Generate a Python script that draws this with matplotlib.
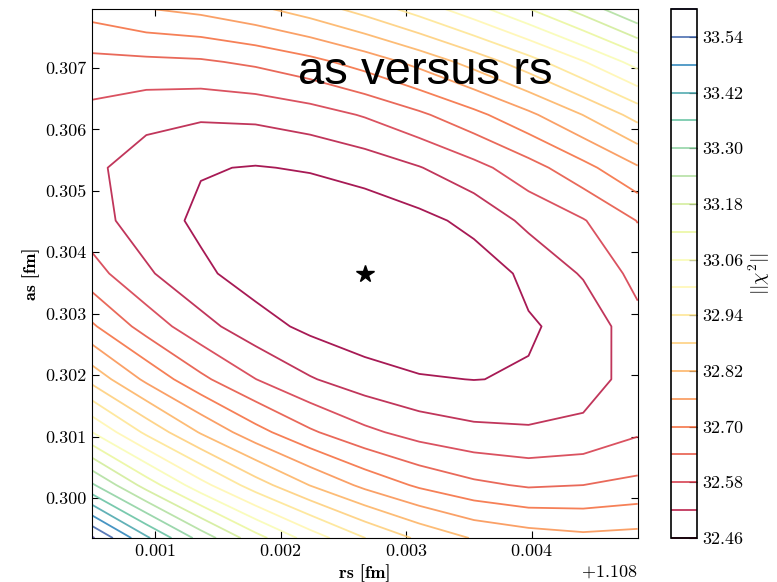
import numpy as np
import matplotlib
matplotlib.use("Agg")
import matplotlib.pyplot as plt
from matplotlib.ticker import ScalarFormatter, FormatStrFormatter

plt.rcParams['font.family'] = 'cmr10'
plt.rcParams['mathtext.fontset'] = 'cm'
plt.rcParams['axes.formatter.use_mathtext'] = True
plt.rcParams['axes.unicode_minus'] = False

# scan grid in rs and as
rs = [1.108496, 1.108931, 1.109365, 1.109800, 1.110235, 1.110670,
      1.111104, 1.111539, 1.111974, 1.112409, 1.112843]
as_ = [0.299350, 0.300211, 0.301072, 0.301933, 0.302794, 0.303655,
       0.304516, 0.305377, 0.306238, 0.307099, 0.307960]

# chi^2 on the grid, one row per as value (lowest as first)
chi2 = [
    [33.609, 33.431, 33.277, 33.144, 33.033, 32.941, 32.869, 32.815, 32.790, 32.775, 32.782],
    [33.310, 33.155, 33.022, 32.909, 32.818, 32.745, 32.690, 32.653, 32.633, 32.640, 32.655],
    [33.061, 32.927, 32.814, 32.722, 32.649, 32.594, 32.556, 32.535, 32.529, 32.538, 32.573],
    [32.861, 32.747, 32.654, 32.581, 32.525, 32.487, 32.465, 32.459, 32.464, 32.489, 32.549],
    [32.709, 32.615, 32.541, 32.484, 32.446, 32.423, 32.416, 32.424, 32.455, 32.476, 32.561],
    [32.604, 32.529, 32.472, 32.433, 32.410, 32.402, 32.410, 32.430, 32.472, 32.526, 32.600],
    [32.545, 32.488, 32.448, 32.424, 32.416, 32.423, 32.443, 32.476, 32.535, 32.576, 32.642],
    [32.532, 32.491, 32.464, 32.457, 32.465, 32.484, 32.517, 32.561, 32.616, 32.681, 32.754],
    [32.563, 32.538, 32.529, 32.534, 32.553, 32.585, 32.629, 32.683, 32.747, 32.821, 32.902],
    [32.623, 32.627, 32.632, 32.651, 32.682, 32.725, 32.779, 32.843, 32.915, 32.996, 33.084],
    [32.725, 32.758, 32.776, 32.807, 32.849, 32.903, 32.966, 33.038, 33.118, 33.205, 33.299],
]
best_rs, best_as = 1.110670, 0.303655

levels = [round(32.46 + 0.06 * k, 2) for k in range(20)]

fig = plt.figure(figsize=(7.77, 5.82), dpi=100)
ax = fig.add_axes([0.1180, 0.0756, 0.7027, 0.9089])
cax = fig.add_axes([0.8636, 0.0756, 0.0335, 0.9089])

cs = ax.contour(rs, as_, np.array(chi2), levels=levels, cmap='Spectral',
                linewidths=1.3, alpha=0.9)
ax.plot(best_rs, best_as, marker='*', color='k', markersize=13, linestyle='none')

ax.set_xticks([1.109, 1.110, 1.111, 1.112])
ax.set_yticks([0.300, 0.301, 0.302, 0.303, 0.304, 0.305, 0.306, 0.307])
fmt = ScalarFormatter(useOffset=1.108, useMathText=True)
ax.xaxis.set_major_formatter(fmt)
ax.yaxis.set_major_formatter(FormatStrFormatter('%.3f'))
ax.tick_params(direction='in', top=True, right=True, length=5, labelsize=13)
ax.xaxis.get_offset_text().set_fontsize(13)
ax.set_xlabel('rs [fm]', fontfamily='cmb10', fontsize=13)
ax.set_ylabel('as [fm]', fontfamily='cmb10', fontsize=13)

cb = fig.colorbar(cs, cax=cax)
cb.set_ticks(levels[::2])
cb.ax.yaxis.set_major_formatter(FormatStrFormatter('%.2f'))
cb.ax.tick_params(direction='in', length=6, labelsize=13)
cb.outline.set_zorder(10)
cb.outline.set_linewidth(1.2)
cb.set_label(r'$||\chi^2||$', fontsize=14, labelpad=3)

fig.text(0.548, 0.876, 'as versus rs', fontfamily='Liberation Sans',
         fontsize=34, ha='center', va='center')

fig.savefig('out.png', dpi=100)
